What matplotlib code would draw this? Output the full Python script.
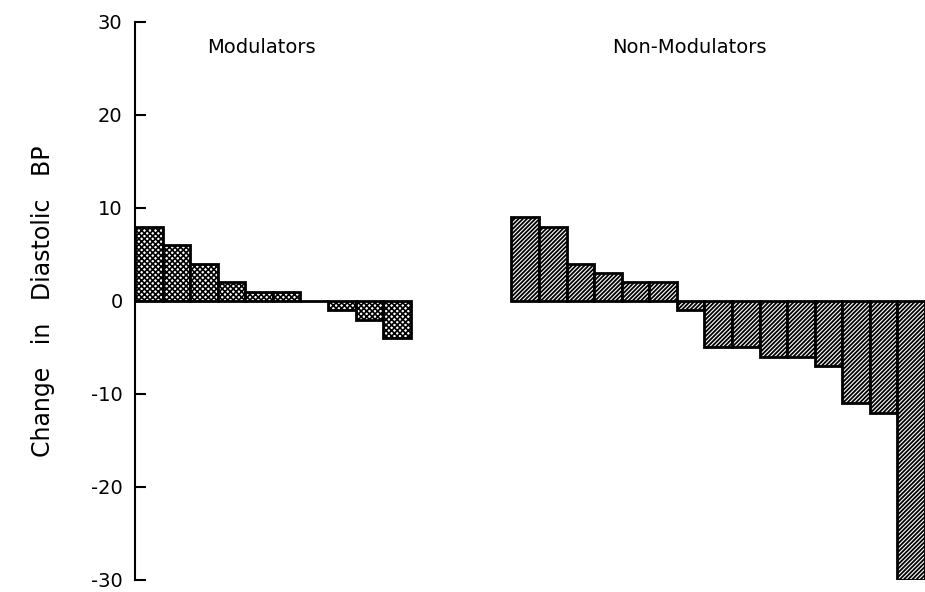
import matplotlib
matplotlib.use('Agg')
import matplotlib.pyplot as plt
import numpy as np

# valores
modulators = [8, 6, 4, 2, 1, 1, 0, -1, -2, -4]
non_modulators = [9, 8, 4, 3, 2, 2, -1, -5, -5, -6, -6, -7, -11, -12, -30]
group_titles = ['Modulators', 'Non-Modulators']
y_ticks = [-30, -20, -10, 0, 10, 20, 30]

plt.rcParams['axes.unicode_minus'] = False

fig = plt.figure(figsize=(9.25, 5.92), dpi=100)
ax = fig.add_axes([0.146, 0.0203, 0.854, 0.9427])

x_mod = np.arange(len(modulators))
x_non = np.arange(len(non_modulators)) + 13.65

plt.rcParams['hatch.linewidth'] = 1.2
ax.bar(x_mod, modulators, width=1.0, align='edge', color='white',
       edgecolor='black', linewidth=2, hatch='xxxxxx')
plt.rcParams['hatch.linewidth'] = 1.3
ax.bar(x_non, non_modulators, width=1.0, align='edge', color='white',
       edgecolor='black', linewidth=2, hatch='////////')

ax.set_xlim(0, 28.65)
ax.set_ylim(-30, 30)
ax.set_yticks(y_ticks)
ax.set_xticks([])
ax.tick_params(axis='y', direction='in', length=8, width=1.5, labelsize=14, pad=9)

for s in ['top', 'right', 'bottom']:
    ax.spines[s].set_visible(False)
ax.spines['left'].set_linewidth(1.5)

ax.text(4.6, 27.2, group_titles[0], ha='center', va='center', fontsize=14)
ax.text(20.1, 27.2, group_titles[1], ha='center', va='center', fontsize=14)

ax.set_ylabel('Change   in   Diastolic   BP', fontsize=17, labelpad=26)

fig.savefig('out.png', dpi=100)
